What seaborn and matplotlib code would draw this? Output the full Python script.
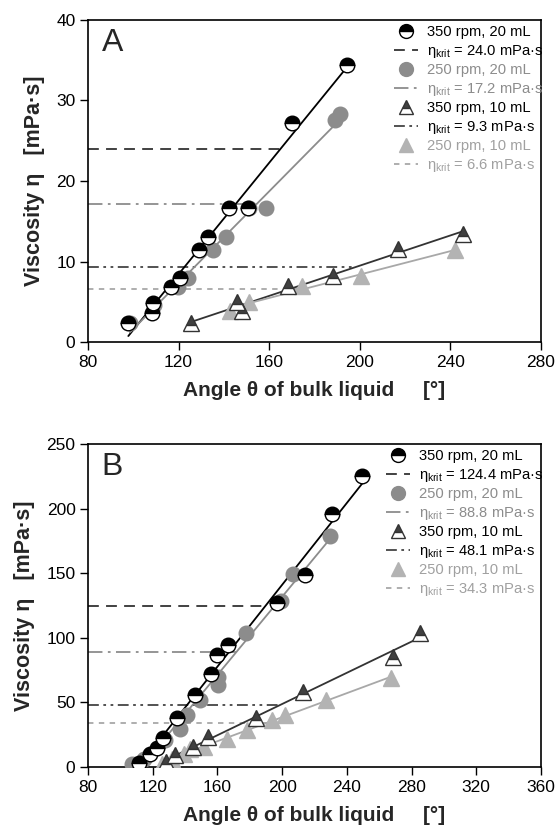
import numpy as np
import pandas as pd
import matplotlib
matplotlib.use("Agg")
import matplotlib.pyplot as plt
from matplotlib.lines import Line2D
import seaborn as sns

sns.set_style("ticks")
plt.rcParams['font.family'] = ['Liberation Sans', 'DejaVu Sans']
plt.rcParams['mathtext.fontset'] = 'custom'
plt.rcParams['mathtext.rm'] = 'Liberation Sans'
plt.rcParams['mathtext.it'] = 'Liberation Sans'

# ---------------- data ----------------
series_names = ["350 rpm, 20 mL", "250 rpm, 20 mL", "350 rpm, 10 mL", "250 rpm, 10 mL"]

# Panel A
a_350_20_x = [97.8, 108.6, 108.1, 116.5, 120.4, 129.2, 133.2, 142.3, 150.6, 170.0, 194.3]
a_350_20_y = [2.3, 4.9, 3.6, 6.8, 8.0, 11.4, 13.1, 16.6, 16.6, 27.2, 34.4]
a_250_20_x = [98.5, 109.2, 119.9, 124.3, 135.1, 141.0, 150.9, 158.7, 189.2, 191.1]
a_250_20_y = [2.3, 4.6, 6.8, 8.0, 11.4, 13.1, 16.6, 16.6, 27.6, 28.3]
a_350_10_x = [125.5, 145.7, 147.9, 168.5, 188.2, 216.9, 245.6]
a_350_10_y = [2.3, 5.0, 3.8, 7.0, 8.2, 11.5, 13.4]
a_250_10_x = [142.8, 150.9, 174.4, 200.5, 242.2]
a_250_10_y = [3.8, 5.0, 7.0, 8.2, 11.4]
a_krit = [24.0, 17.2, 9.3, 6.6]

# Panel B
b_350_20_x = [111.4, 118.2, 122.7, 126.4, 135.0, 146.3, 155.9, 159.6, 166.8, 196.9, 214.0, 230.8, 249.5]
b_350_20_y = [3.1, 10.4, 15.0, 22.5, 37.9, 56.0, 72.3, 86.5, 94.2, 127.0, 148.9, 196.0, 225.0]
b_250_20_x = [107.3, 114.5, 127.8, 137.0, 141.5, 149.4, 160.6, 160.6, 177.5, 199.5, 206.8, 229.8]
b_250_20_y = [2.6, 6.5, 20.7, 29.7, 40.0, 51.6, 69.7, 63.2, 103.7, 128.5, 149.1, 178.6]
b_350_10_x = [128.4, 133.5, 145.2, 154.1, 183.8, 212.6, 268.3, 285.2]
b_350_10_y = [3.9, 9.0, 15.5, 23.2, 38.0, 58.0, 85.1, 103.7]
b_250_10_x = [125.8, 131.9, 139.1, 143.2, 151.4, 165.8, 178.1, 193.5, 201.7, 227.3, 267.3]
b_250_10_y = [2.6, 6.5, 10.4, 14.2, 15.5, 22.0, 28.4, 36.1, 40.0, 51.6, 69.0]
b_krit = [124.4, 88.8, 48.1, 34.3]

# ---------------- styles ----------------
styles = [
    dict(marker='o', fillstyle='top', mfc='black', mfcalt='white', mec='black', ms=10.5,
         line='black', crit_color='#333333', crit_ls=(0, (6, 4)), text='black'),
    dict(marker='o', fillstyle='full', mfc='#8c8c8c', mfcalt='#8c8c8c', mec='#8c8c8c', ms=10.5,
         line='#8c8c8c', crit_color='#8c8c8c', crit_ls=(0, (8, 3, 1.5, 3)), text='#8c8c8c'),
    dict(marker='^', fillstyle='top', mfc='#404040', mfcalt='white', mec='#333333', ms=11,
         line='#333333', crit_color='#444444', crit_ls=(0, (6, 2.5, 1.5, 2.5, 1.5, 2.5)), text='black'),
    dict(marker='^', fillstyle='full', mfc='#b3b3b3', mfcalt='#b3b3b3', mec='#b3b3b3', ms=11,
         line='#a8a8a8', crit_color='#a8a8a8', crit_ls=(0, (3, 3)), text='#a0a0a0'),
]

fig = plt.figure(figsize=(5.56, 8.36), dpi=100)


def draw_panel(ax, xs, ys, krits, xlim, ylim, xticks, yticks, letter):
    frames = []
    for name, x, y in zip(series_names, xs, ys):
        frames.append(pd.DataFrame({"angle": x, "visc": y, "series": name}))
    df = pd.concat(frames, ignore_index=True)

    handles, labels = [], []
    for i, name in enumerate(series_names):
        st = styles[i]
        sub = df[df.series == name]
        m, b = np.polyfit(sub.angle, sub.visc, 1)
        # critical viscosity line up to intersection with fit line
        xint = (krits[i] - b) / m
        ax.plot([xlim[0], xint], [krits[i], krits[i]], color=st['crit_color'],
                linestyle=st['crit_ls'], lw=1.3, zorder=1)
        sns.regplot(data=sub, x="angle", y="visc", ax=ax, scatter=False, ci=None,
                    truncate=True, line_kws=dict(color=st['line'], lw=1.3, zorder=2))
    for i, name in enumerate(series_names):
        st = styles[i]
        sub = df[df.series == name]
        sns.lineplot(data=sub, x="angle", y="visc", ax=ax, estimator=None, sort=False,
                     linestyle='', marker=st['marker'], fillstyle=st['fillstyle'],
                     markerfacecolor=st['mfc'], markerfacecoloralt=st['mfcalt'],
                     markeredgecolor=st['mec'], markeredgewidth=1.0, markersize=st['ms'],
                     zorder=4 - i * 0.1, legend=False)
        handles.append(Line2D([], [], linestyle='', marker=st['marker'], fillstyle=st['fillstyle'],
                              markerfacecolor=st['mfc'], markerfacecoloralt=st['mfcalt'],
                              markeredgecolor=st['mec'], markersize=st['ms'] * 0.95))
        labels.append(name)
        handles.append(Line2D([], [], color=st['crit_color'], linestyle=st['crit_ls'], lw=1.3))
        labels.append(r"η$_{\mathrm{krit}}$ = " + f"{krits[i]:.1f} mPa·s")

    leg = ax.legend(handles, labels, loc='upper right', bbox_to_anchor=(1.016, 1.0),
                    frameon=False, fontsize=10.6, handlelength=1.6, handletextpad=0.6,
                    labelspacing=0.24, borderaxespad=0.1, borderpad=0.25)
    cols = []
    for st in styles:
        cols += [st['text'], st['text']]
    for t, c in zip(leg.get_texts(), cols):
        t.set_color(c)

    ax.set_xlim(*xlim)
    ax.set_ylim(*ylim)
    ax.set_xticks(xticks)
    ax.set_yticks(yticks)
    ax.tick_params(direction='out', length=6, width=1, labelsize=12.5, colors='black', pad=3)
    for s in ax.spines.values():
        s.set_linewidth(1.2)
        s.set_color('black')
    ax.set_xlabel("Angle θ of bulk liquid     [°]", fontsize=15, fontweight='bold', labelpad=8)
    ax.set_ylabel("Viscosity η   [mPa·s]", fontsize=15.5, fontweight='bold', labelpad=8)
    ax.text(0.03, 0.975, letter, transform=ax.transAxes, fontsize=23, va='top', ha='left')


axA = fig.add_axes([88 / 556, 1 - 342 / 836, 453 / 556, 322 / 836])
draw_panel(axA, [a_350_20_x, a_250_20_x, a_350_10_x, a_250_10_x],
           [a_350_20_y, a_250_20_y, a_350_10_y, a_250_10_y], a_krit,
           (80, 280), (0, 40), [80, 120, 160, 200, 240, 280], [0, 10, 20, 30, 40], "A")

axB = fig.add_axes([88 / 556, 1 - 767 / 836, 453 / 556, 323 / 836])
draw_panel(axB, [b_350_20_x, b_250_20_x, b_350_10_x, b_250_10_x],
           [b_350_20_y, b_250_20_y, b_350_10_y, b_250_10_y], b_krit,
           (80, 360), (0, 250), [80, 120, 160, 200, 240, 280, 320, 360], [0, 50, 100, 150, 200, 250], "B")

fig.savefig("out.png", dpi=100)
